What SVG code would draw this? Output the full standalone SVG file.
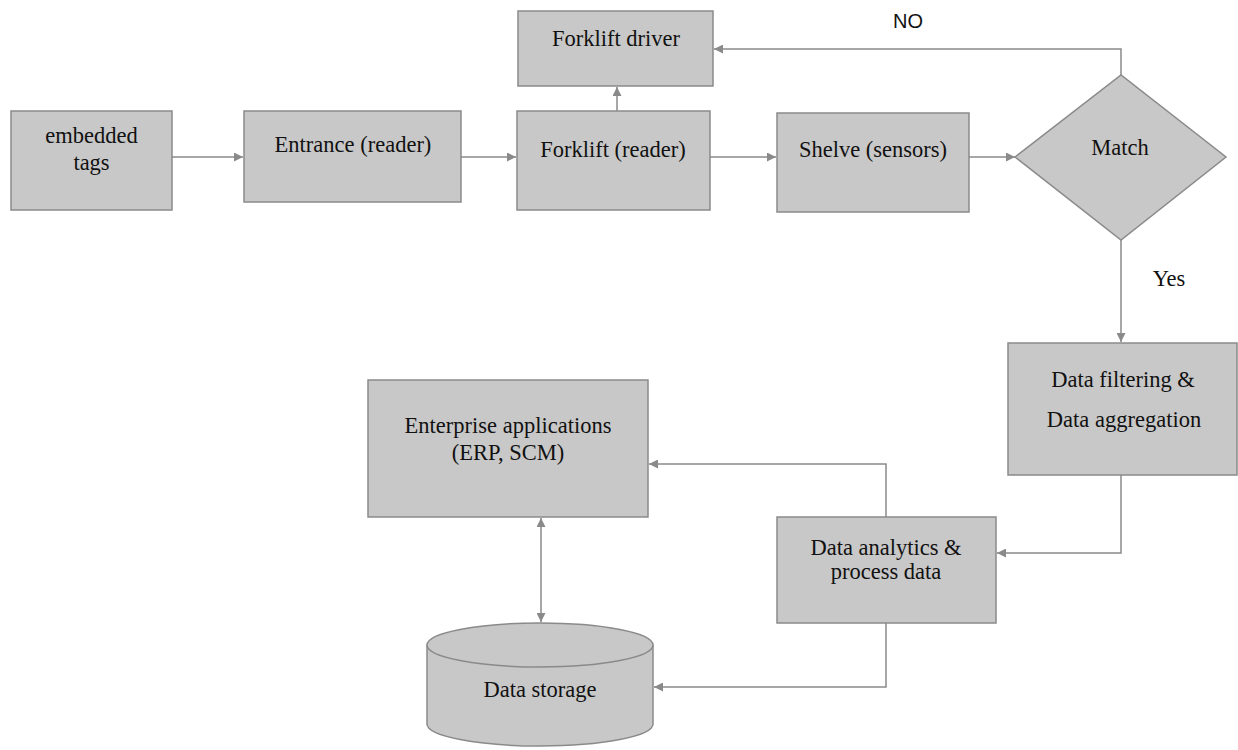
<svg xmlns="http://www.w3.org/2000/svg" width="1238" height="750" viewBox="0 0 1238 750">
<defs>
<style>
.box{fill:#c8c8c8;stroke:#8a8a8a;stroke-width:1.5}
.t{font-family:'Liberation Serif','DejaVu Serif',serif;font-size:22.5px;fill:#111;text-anchor:middle}
.s{font-family:'Liberation Sans',Arial,sans-serif;font-size:20px;fill:#111;text-anchor:middle}
.c{fill:none;stroke:#8a8a8a;stroke-width:1.5}
</style>
<marker id="ah" viewBox="0 0 10 10" refX="10" refY="5" markerWidth="11" markerHeight="9" markerUnits="userSpaceOnUse" orient="auto-start-reverse">
<path d="M0,0 L10,5 L0,10 Z" fill="#8a8a8a"/>
</marker>
</defs>
<rect width="1238" height="750" fill="#fff"/>
<g id="connectors">
<path class="c" d="M172,157 H243" marker-end="url(#ah)"/>
<path class="c" d="M461,157 H516" marker-end="url(#ah)"/>
<path class="c" d="M617,111 V87" marker-end="url(#ah)"/>
<path class="c" d="M710,157 H776" marker-end="url(#ah)"/>
<path class="c" d="M969,157 H1015" marker-end="url(#ah)"/>
<path class="c" d="M1121,75 V49 H714" marker-end="url(#ah)"/>
<path class="c" d="M1121,240 V342" marker-end="url(#ah)"/>
<path class="c" d="M1121,475 V553 H997" marker-end="url(#ah)"/>
<path class="c" d="M886,517 V464 H649" marker-end="url(#ah)"/>
<path class="c" d="M886,623 V687 H654" marker-end="url(#ah)"/>
<path class="c" d="M541,518 V622" marker-start="url(#ah)" marker-end="url(#ah)"/>
</g>
<g id="embedded-tags">
<rect class="box" x="11" y="111" width="161" height="99"/>
<text class="t" x="91.5" y="143">embedded</text>
<text class="t" x="91.5" y="170">tags</text>
</g>
<g id="entrance">
<rect class="box" x="244" y="111" width="217" height="91"/>
<text class="t" x="353" y="152">Entrance (reader)</text>
</g>
<g id="forklift-driver">
<rect class="box" x="518" y="11" width="195" height="75"/>
<text class="t" x="616" y="46">Forklift driver</text>
</g>
<g id="forklift-reader">
<rect class="box" x="517" y="111" width="193" height="99"/>
<text class="t" x="613" y="157">Forklift (reader)</text>
</g>
<g id="shelve">
<rect class="box" x="777" y="113" width="192" height="99"/>
<text class="t" x="873" y="157">Shelve (sensors)</text>
</g>
<g id="match">
<polygon class="box" points="1015,157 1121,75 1226,157 1121,240"/>
<text class="t" x="1120" y="155">Match</text>
</g>
<g id="labels">
<text class="s" x="908" y="28">NO</text>
<text class="t" x="1169" y="286">Yes</text>
</g>
<g id="data-filtering">
<rect class="box" x="1008" y="343" width="229" height="132"/>
<text class="t" x="1123" y="387">Data filtering &amp;</text>
<text class="t" x="1124" y="427">Data aggregation</text>
</g>
<g id="enterprise">
<rect class="box" x="368" y="380" width="280" height="137"/>
<text class="t" x="508" y="433">Enterprise applications</text>
<text class="t" x="508" y="460">(ERP, SCM)</text>
</g>
<g id="data-analytics">
<rect class="box" x="777" y="517" width="219" height="106"/>
<text class="t" x="886" y="555">Data analytics &amp;</text>
<text class="t" x="886" y="579">process data</text>
</g>
<g id="data-storage">
<path class="box" d="M427,645 V724 A113,22 0 0 0 653,724 V645"/>
<ellipse class="box" cx="540" cy="645" rx="113" ry="22"/>
<text class="t" x="540" y="697">Data storage</text>
</g>
</svg>
